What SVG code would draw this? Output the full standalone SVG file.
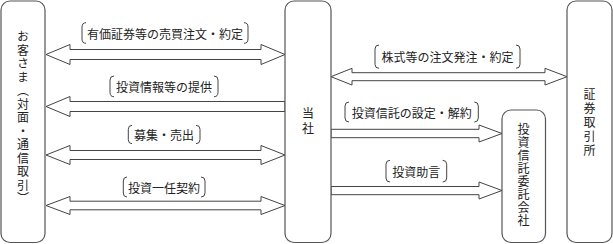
<svg xmlns="http://www.w3.org/2000/svg" width="613" height="244" viewBox="0 0 613 244">
<style>
.box{fill:#fff;stroke:#555;stroke-width:1.2}
.arr{fill:#fff;stroke:#444;stroke-width:1;stroke-linejoin:miter}
.br{fill:none;stroke:#444;stroke-width:1}
.t{font-family:"Noto Sans CJK JP","Noto Sans CJK SC",sans-serif;font-size:12px;fill:#222}
.h{text-anchor:middle;dominant-baseline:central}
.v{writing-mode:vertical-rl;text-anchor:middle}
</style>
<rect width="613" height="244" fill="#fff"/>
<g id="connectors">
<polygon class="arr" points="46,54.5 70,44.5 70,49.5 261,49.5 261,44.5 285,54.5 261,64.5 261,59.5 70,59.5 70,64.5"/>
<polygon class="arr" points="46,106.5 70,96.5 70,101.5 285,101.5 285,111.5 70,111.5 70,116.5"/>
<polygon class="arr" points="46,155 70,145.5 70,150.5 261,150.5 261,145.5 285,155 261,164.5 261,159.5 70,159.5 70,164.5"/>
<polygon class="arr" points="46,205.5 70,196.5 70,201.2 261,201.2 261,196.5 285,205.5 261,214.5 261,209.8 70,209.8 70,214.5"/>
<polygon class="arr" points="331,76.7 352,68.3 352,72.7 545,72.7 545,68.3 567,76.7 545,85 545,80.7 352,80.7 352,85"/>
<polygon class="arr" points="331,129.3 479,129.3 479,125 502,133.5 479,142 479,137.7 331,137.7"/>
<polygon class="arr" points="331,186.5 479,186.5 479,182 502,190.5 479,199 479,194.7 331,194.7"/>
<g id="labels">
<path class="br" d="M86,22.7 Q82,22.7 82,27 L82,39 Q82,43.3 86,43.3 M244,22.7 Q248,22.7 248,27 L248,39 Q248,43.3 244,43.3"/>
<text class="t h" x="165" y="33">有価証券等の売買注文・約定</text>
<path class="br" d="M114,76 Q110,76 110,80 L110,92.5 Q110,96.7 114,96.7 M214,76 Q218,76 218,80 L218,92.5 Q218,96.7 214,96.7"/>
<text class="t h" x="164" y="86.5">投資情報等の提供</text>
<path class="br" d="M132,125.3 Q128.3,125.3 128.3,129.3 L128.3,139.7 Q128.3,143.7 132,143.7 M196,125.3 Q200,125.3 200,129.3 L200,139.7 Q200,143.7 196,143.7"/>
<text class="t h" x="164" y="134.5">募集・売出</text>
<path class="br" d="M127,177 Q123.3,177 123.3,181 L123.3,193 Q123.3,197 127,197 M201,177 Q205,177 205,181 L205,193 Q205,197 201,197"/>
<text class="t h" x="164" y="187">投資一任契約</text>
<path class="br" d="M379,45 Q375,45 375,49 L375,64.3 Q375,68.3 379,68.3 M516,45 Q520,45 520,49 L520,64.3 Q520,68.3 516,68.3"/>
<text class="t h" x="447.5" y="56.7">株式等の注文発注・約定</text>
<path class="br" d="M349,102 Q345,102 345,106 L345,118 Q345,122 349,122 M474.3,102 Q478.3,102 478.3,106 L478.3,118 Q478.3,122 474.3,122"/>
<text class="t h" x="411.7" y="112">投資信託の設定・解約</text>
<path class="br" d="M390,160.3 Q386,160.3 386,164.3 L386,178 Q386,182 390,182 M442.7,160.3 Q446.7,160.3 446.7,164.3 L446.7,178 Q446.7,182 442.7,182"/>
<text class="t h" x="416.3" y="171">投資助言</text>
</g>
</g>
<g id="customer">
<rect class="box" x="1" y="1" width="44" height="241.5" rx="9"/>
<text class="t v" x="23" y="118.5" style="letter-spacing:1.5px">お客さま（対面・通信取引）</text>
</g>
<g id="company">
<rect class="box" x="285" y="1" width="46" height="241.5" rx="9"/>
<text class="t v" x="308" y="122.5" style="letter-spacing:3px">当社</text>
</g>
<g id="trust">
<rect class="box" x="502" y="110" width="43.5" height="132.5" rx="9"/>
<text class="t v" x="523.5" y="175" style="letter-spacing:1px">投資信託委託会社</text>
</g>
<g id="exchange">
<rect class="box" x="567" y="1" width="45" height="241.5" rx="9"/>
<text class="t v" x="589.5" y="123" style="letter-spacing:2px">証券取引所</text>
</g>
</svg>
